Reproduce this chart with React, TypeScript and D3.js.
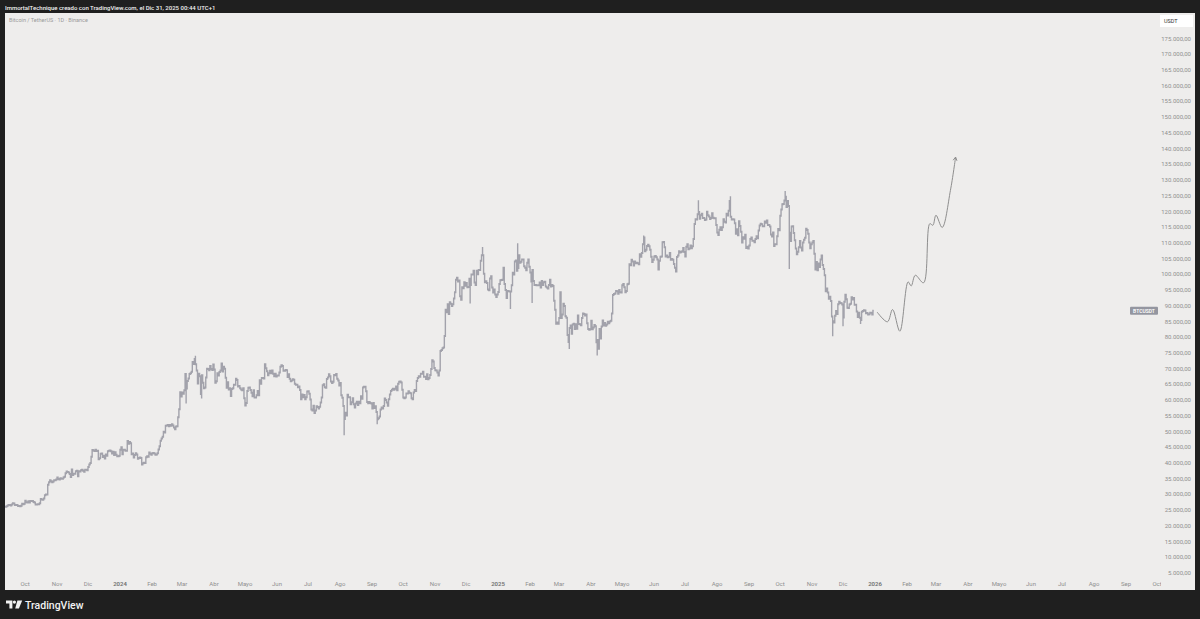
import React, { useEffect, useRef } from "react";
import * as d3 from "d3";

const W = 1200;
const H = 619;

// daily closes (thousand USDT), one array per month
const closesSep23 = [26.1, 26.2, 26.5, 26.6, 26.6, 26.5, 26.8, 27.2, 27.1, 26.6, 26.6, 26.6, 26.3, 26.3, 26.2, 26.4, 27.0, 26.9, 27.0];
const closesOct23 = [28.0, 27.5, 27.4, 27.8, 27.4, 27.9, 27.9, 27.9, 27.6, 27.4, 26.8, 26.8, 26.9, 26.9, 27.2, 28.5, 28.4, 28.3, 28.7, 29.7, 30.0, 30.0, 33.1, 33.9, 34.5, 34.2, 33.9, 34.1, 34.5, 34.5, 34.7];
const closesNov23 = [35.4, 34.9, 34.7, 35.1, 35.0, 35.0, 35.4, 35.6, 36.7, 37.3, 37.1, 37.0, 36.5, 35.5, 37.9, 36.2, 36.6, 36.6, 37.4, 37.5, 35.8, 37.4, 37.3, 37.7, 37.8, 37.5, 37.2, 37.8, 37.8, 37.7];
const closesDec23 = [38.7, 39.5, 40.0, 42.0, 44.1, 44.0, 43.8, 44.2, 43.8, 43.9, 41.2, 41.5, 42.9, 43.0, 41.9, 42.3, 41.4, 42.7, 42.3, 43.7, 43.9, 44.0, 43.7, 43.0, 43.6, 42.5, 43.4, 42.6, 42.1, 42.1, 42.3];
const closesJan24 = [44.2, 45.0, 42.8, 44.2, 44.2, 43.9, 43.9, 47.0, 46.1, 46.7, 46.3, 42.8, 43.0, 41.7, 42.5, 43.1, 42.7, 41.3, 41.6, 41.7, 41.6, 39.5, 39.9, 40.1, 40.0, 41.8, 42.1, 42.0, 43.3, 42.9, 42.6];
const closesFeb24 = [43.1, 43.2, 43.0, 42.6, 42.7, 43.1, 44.3, 45.3, 47.1, 47.8, 48.3, 49.9, 49.7, 51.8, 51.9, 52.1, 51.7, 52.1, 51.8, 52.3, 51.9, 51.3, 50.7, 51.6, 51.7, 54.5, 57.1, 62.5, 61.1];
const closesMar24 = [62.4, 62.0, 63.1, 68.3, 63.7, 66.1, 66.9, 68.3, 68.5, 69.0, 72.1, 71.5, 73.1, 71.4, 69.4, 65.3, 68.4, 67.6, 61.9, 67.9, 65.5, 63.8, 64.0, 67.2, 70.0, 69.9, 69.5, 70.8, 69.9, 69.6, 71.3];
const closesApr24 = [69.7, 65.5, 66.0, 68.5, 67.8, 68.9, 69.4, 71.6, 69.1, 70.6, 70.0, 67.1, 63.9, 65.7, 63.4, 63.8, 61.3, 63.5, 63.8, 64.9, 64.9, 66.8, 66.4, 64.3, 64.5, 63.8, 63.4, 63.1, 63.8, 60.6];
const closesMay24 = [58.3, 59.1, 62.9, 63.9, 64.0, 63.2, 62.3, 61.2, 63.1, 60.8, 60.8, 61.5, 62.9, 61.5, 66.3, 65.2, 67.0, 67.0, 66.9, 71.4, 70.1, 69.2, 67.9, 68.5, 69.3, 68.5, 69.4, 68.4, 67.6, 68.4, 67.5];
const closesJun24 = [67.8, 67.8, 68.8, 70.6, 71.1, 70.8, 69.3, 69.3, 69.6, 69.5, 67.3, 68.2, 66.8, 66.0, 66.2, 66.6, 66.5, 65.2, 64.9, 64.9, 64.1, 64.3, 63.2, 60.3, 61.8, 60.9, 61.6, 60.3, 60.9, 62.7];
const closesJul24 = [62.8, 62.0, 60.2, 57.0, 56.7, 58.2, 55.9, 56.7, 58.0, 57.8, 57.3, 57.9, 59.2, 60.8, 64.7, 65.0, 64.1, 63.9, 66.7, 67.2, 68.2, 67.6, 65.9, 65.4, 65.8, 68.0, 67.9, 68.3, 66.8, 66.2, 64.6];
const closesAug24 = [65.4, 61.5, 60.7, 58.1, 54.0, 56.0, 55.1, 61.7, 60.9, 60.9, 58.7, 59.3, 60.6, 58.7, 57.6, 58.9, 59.5, 58.4, 59.5, 59.0, 61.2, 60.4, 64.0, 64.2, 64.2, 62.8, 59.4, 59.0, 59.4, 59.1, 58.9];
const closesSep24 = [57.3, 59.1, 57.5, 58.0, 56.2, 53.9, 54.2, 54.8, 57.0, 57.6, 57.3, 58.1, 60.5, 60.0, 59.2, 58.2, 60.3, 61.8, 62.9, 63.3, 63.6, 63.3, 63.6, 64.3, 63.1, 65.2, 65.8, 65.9, 65.6, 63.3];
const closesOct24 = [60.8, 60.6, 60.8, 62.1, 62.1, 62.8, 62.3, 62.2, 60.6, 60.3, 62.4, 63.2, 62.9, 66.1, 67.0, 67.6, 67.4, 68.4, 68.4, 69.0, 67.4, 67.4, 66.7, 68.2, 66.6, 67.0, 68.0, 69.9, 72.7, 72.3, 70.2];
const closesNov24 = [69.5, 69.4, 68.8, 67.8, 69.4, 75.6, 75.9, 76.5, 76.7, 80.4, 88.7, 87.9, 90.5, 87.4, 91.1, 90.6, 89.9, 90.5, 92.3, 94.3, 98.3, 98.9, 97.7, 98.0, 93.0, 91.9, 95.9, 95.6, 97.5, 96.4];
const closesDec24 = [97.2, 95.9, 96.0, 98.6, 96.6, 99.9, 99.9, 101.1, 97.4, 96.6, 101.1, 100.0, 101.4, 101.4, 104.3, 106.1, 106.1, 100.2, 97.5, 97.8, 97.2, 95.2, 94.9, 98.7, 99.4, 95.8, 94.2, 95.2, 93.6, 92.8, 93.6];
const closesJan25 = [94.4, 96.9, 98.1, 98.2, 98.3, 102.1, 96.9, 95.0, 92.5, 94.7, 94.6, 94.5, 94.5, 96.5, 100.5, 99.9, 104.1, 104.4, 101.1, 102.0, 106.1, 103.7, 104.0, 104.7, 104.7, 102.6, 102.1, 101.3, 103.7, 104.7, 102.4];
const closesFeb25 = [100.6, 97.7, 101.4, 97.9, 96.6, 96.6, 96.5, 96.5, 96.5, 97.4, 95.8, 97.9, 96.6, 97.5, 97.6, 96.1, 95.8, 95.5, 96.6, 98.3, 96.1, 96.6, 96.3, 91.6, 88.7, 84.3, 84.7, 84.3];
const closesMar25 = [86.1, 94.3, 86.1, 87.2, 90.6, 89.9, 86.7, 86.2, 80.7, 78.5, 82.9, 83.7, 81.1, 84.0, 84.3, 82.6, 84.1, 82.7, 86.9, 84.2, 84.1, 83.8, 86.1, 87.5, 87.4, 86.9, 87.2, 84.4, 82.6, 82.4, 82.5];
const closesApr25 = [85.2, 82.5, 83.1, 83.9, 83.5, 78.4, 79.1, 76.3, 82.6, 79.6, 83.4, 85.3, 83.7, 84.5, 83.6, 84.0, 84.9, 84.4, 85.0, 85.2, 87.5, 93.4, 93.7, 93.9, 94.7, 94.6, 93.8, 95.0, 94.3, 94.2];
const closesMay25 = [96.5, 96.9, 95.9, 94.3, 94.7, 96.8, 97.0, 103.2, 102.9, 104.6, 104.1, 102.8, 104.1, 103.5, 103.7, 103.5, 103.2, 106.4, 105.6, 106.8, 109.6, 111.7, 107.3, 107.8, 109.0, 109.4, 108.9, 107.8, 105.6, 103.9, 104.6];
const closesJun25 = [105.7, 105.8, 105.4, 104.7, 101.5, 104.3, 105.6, 105.7, 110.2, 110.3, 108.6, 105.7, 106.0, 105.4, 105.6, 106.8, 104.6, 104.9, 104.6, 103.3, 102.1, 100.9, 105.5, 106.0, 107.3, 106.9, 107.1, 107.3, 108.4, 107.1];
const closesJul25 = [105.7, 108.8, 109.6, 108.0, 108.2, 109.2, 108.3, 108.9, 111.2, 116.0, 117.5, 117.4, 119.1, 119.8, 117.7, 118.8, 119.3, 117.9, 117.9, 117.3, 117.4, 119.9, 118.8, 118.4, 117.6, 117.9, 119.4, 118.0, 117.8, 117.8, 115.7];
const closesAug25 = [113.3, 112.5, 114.2, 115.0, 114.1, 115.0, 117.5, 116.7, 116.5, 119.3, 118.7, 120.2, 123.3, 118.3, 117.4, 117.5, 117.4, 116.2, 112.9, 114.3, 112.4, 116.9, 115.4, 113.5, 110.1, 111.8, 111.3, 112.6, 108.4, 108.8, 108.2];
const closesSep25 = [109.2, 111.2, 111.7, 110.7, 110.7, 110.2, 111.2, 112.1, 111.5, 113.9, 115.5, 116.1, 115.9, 115.3, 115.3, 116.8, 116.4, 117.1, 115.7, 115.7, 115.2, 112.7, 112.0, 113.3, 109.0, 109.6, 109.6, 112.1, 114.4, 114.0];
const closesOct25 = [118.6, 120.6, 122.3, 122.4, 123.5, 124.7, 121.4, 123.3, 121.7, 113.2, 110.6, 115.2, 115.3, 113.1, 110.8, 108.2, 106.4, 107.2, 108.6, 110.6, 108.5, 107.6, 110.1, 111.0, 111.6, 114.5, 114.1, 112.9, 110.1, 108.3, 109.6];
const closesNov25 = [110.1, 110.6, 106.5, 101.5, 103.9, 101.3, 103.4, 102.3, 104.7, 106.0, 103.0, 101.7, 99.7, 94.6, 95.5, 94.2, 92.2, 92.9, 91.5, 86.6, 85.1, 84.7, 86.8, 88.3, 87.4, 90.5, 91.3, 90.9, 90.8, 90.4];
const closesDec25 = [86.3, 91.3, 93.5, 92.1, 89.4, 89.3, 90.4, 90.6, 92.7, 92.0, 92.5, 90.3, 90.3, 88.2, 86.4, 87.8, 86.2, 85.5, 88.1, 88.3, 88.6, 88.5, 87.6, 87.7, 87.2, 87.3, 87.8, 87.8, 87.2, 88.4];

const monthStarts = ["2023-09-12", "2023-10-01", "2023-11-01", "2023-12-01", "2024-01-01", "2024-02-01", "2024-03-01", "2024-04-01", "2024-05-01", "2024-06-01", "2024-07-01", "2024-08-01", "2024-09-01", "2024-10-01", "2024-11-01", "2024-12-01", "2025-01-01", "2025-02-01", "2025-03-01", "2025-04-01", "2025-05-01", "2025-06-01", "2025-07-01", "2025-08-01", "2025-09-01", "2025-10-01", "2025-11-01", "2025-12-01"];
const monthCloses = [closesSep23, closesOct23, closesNov23, closesDec23, closesJan24, closesFeb24, closesMar24, closesApr24, closesMay24, closesJun24, closesJul24, closesAug24, closesSep24, closesOct24, closesNov24, closesDec24, closesJan25, closesFeb25, closesMar25, closesApr25, closesMay25, closesJun25, closesJul25, closesAug25, closesSep25, closesOct25, closesNov25, closesDec25];

// intraday extremes that stick out of the bars
const wickDates = ["2024-03-05", "2024-03-14", "2024-03-20", "2024-08-05", "2024-09-06", "2024-12-05", "2024-12-17", "2025-01-13", "2025-01-20", "2025-02-03", "2025-03-11", "2025-04-07", "2025-05-22", "2025-07-14", "2025-08-14", "2025-10-06", "2025-10-10", "2025-11-21", "2025-12-01", "2025-12-18"];
const wickPrices = [59.2, 73.8, 60.8, 49.1, 52.6, 91.0, 108.4, 89.3, 109.6, 91.2, 76.6, 74.5, 112.0, 123.2, 124.5, 126.2, 102.0, 80.6, 83.8, 84.5];

// hand-drawn projection
const projDates = ["2026-01-03", "2026-01-13", "2026-01-18", "2026-01-25", "2026-02-02", "2026-02-05", "2026-02-09", "2026-02-17", "2026-02-23", "2026-02-26", "2026-03-01", "2026-03-07", "2026-03-15", "2026-03-20"];
const projPrices = [88.0, 84.9, 88.8, 81.9, 97.6, 96.3, 99.7, 97.3, 116.1, 115.6, 118.8, 114.9, 126.7, 137.3];

const monthNames = ["Ene", "Feb", "Mar", "Abr", "Mayo", "Jun", "Jul", "Ago", "Sep", "Oct", "Nov", "Dic"];
const priceTicks = d3.range(5, 176, 5);

const FONT = "Roboto, 'Noto Sans', sans-serif";

const App = () => {
  const ref = useRef<SVGSVGElement>(null);

  useEffect(() => {
    const svg = d3.select(ref.current);
    svg.selectAll("*").remove();

    const parse = d3.utcParse("%Y-%m-%d");
    const x = d3
      .scaleUtc()
      .domain([parse("2023-10-01")!, parse("2026-10-01")!])
      .range([25, 1157]);
    const y = d3.scaleLinear().domain([5, 175]).range([573, 38.5]);

    const fmt = d3
      .formatLocale({ decimal: ",", thousands: ".", grouping: [3], currency: ["", ""] })
      .format(",.2f");

    // background + panel
    svg.append("rect").attr("width", W).attr("height", H).attr("fill", "#1f1f1f");
    svg.append("rect").attr("x", 5).attr("y", 13).attr("width", 1190).attr("height", 577).attr("fill", "#eeedec");

    const defs = svg.append("defs");
    defs.append("clipPath").attr("id", "plot").append("rect").attr("x", 5).attr("y", 13).attr("width", 1155).attr("height", 565);
    defs.append("clipPath").attr("id", "timeaxis").append("rect").attr("x", 5).attr("y", 575).attr("width", 1156).attr("height", 15);

    svg
      .append("text")
      .attr("x", 5)
      .attr("y", 9.5)
      .attr("fill", "#f2f2f2")
      .attr("font-family", FONT)
      .attr("font-size", 6)
      .attr("font-weight", 500)
      .text("ImmortalTechnique creado con TradingView.com, el Dic 31, 2025 00:44 UTC+1");

    svg
      .append("text")
      .attr("x", 9)
      .attr("y", 22)
      .attr("fill", "#9a9a9a")
      .attr("font-family", FONT)
      .attr("font-size", 5.5)
      .text("Bitcoin / TetherUS · 1D · Binance");

    // daily bars
    const wickMap = new Map(wickDates.map((d, i) => [d, wickPrices[i]]));
    const fmtDay = d3.utcFormat("%Y-%m-%d");
    let path = "";
    let prev: number | null = null;
    let lastClose = 0;
    monthStarts.forEach((start, m) => {
      const d0 = parse(start)!;
      monthCloses[m].forEach((c, i) => {
        const day = d3.utcDay.offset(d0, i);
        const open = prev ?? c;
        const w = wickMap.get(fmtDay(day));
        let hi = Math.max(open, c);
        let lo = Math.min(open, c);
        if (w !== undefined) {
          hi = Math.max(hi, w);
          lo = Math.min(lo, w);
        }
        const px = x(day);
        const yh = y(hi) - 1;
        const yl = Math.max(y(lo) + 1, yh + 2);
        path += `M${px},${yh}V${yl}M${px - 0.8},${y(open)}H${px}M${px},${y(c)}H${px + 0.8}`;
        prev = c;
        lastClose = c;
      });
    });

    const plot = svg.append("g").attr("clip-path", "url(#plot)");
    plot
      .append("path")
      .attr("d", path)
      .attr("fill", "none")
      .attr("stroke", "#a2a2ab")
      .attr("stroke-width", 1.4);

    // projection curve with arrow
    const pts: [number, number][] = projDates.map((d, i) => [x(parse(d)!), y(projPrices[i])]);
    const line = d3.line().curve(d3.curveCatmullRom.alpha(0.5));
    plot
      .append("path")
      .attr("d", line(pts))
      .attr("fill", "none")
      .attr("stroke", "#8e8e8e")
      .attr("stroke-width", 1);
    const [ax, ay] = pts[pts.length - 1];
    const [bx, by] = pts[pts.length - 2];
    const ang = Math.atan2(ay - by, ax - bx);
    const L = 4;
    const arrow = [ang + Math.PI - 0.5, ang + Math.PI + 0.5]
      .map((a) => `M${ax},${ay}L${ax + L * Math.cos(a)},${ay + L * Math.sin(a)}`)
      .join("");
    plot.append("path").attr("d", arrow).attr("fill", "none").attr("stroke", "#8e8e8e").attr("stroke-width", 1);

    // price axis
    const ya = svg.append("g");
    ya.selectAll("text")
      .data(priceTicks)
      .enter()
      .append("text")
      .attr("x", 1191)
      .attr("y", (d) => y(d))
      .attr("dy", "0.35em")
      .attr("text-anchor", "end")
      .attr("fill", "#8f8f8f")
      .attr("font-family", FONT)
      .attr("font-size", 6)
      .text((d) => fmt(d * 1000));

    svg.append("rect").attr("x", 1160).attr("y", 15).attr("width", 33).attr("height", 12).attr("fill", "#ffffff");
    svg
      .append("text")
      .attr("x", 1164)
      .attr("y", 21)
      .attr("dy", "0.35em")
      .attr("fill", "#333")
      .attr("font-family", FONT)
      .attr("font-size", 5.5)
      .text("USDT");

    const ly = y(lastClose);
    svg.append("rect").attr("x", 1130).attr("y", ly - 4).attr("width", 28).attr("height", 8).attr("rx", 1).attr("fill", "#9496a0");
    svg
      .append("text")
      .attr("x", 1144)
      .attr("y", ly)
      .attr("dy", "0.35em")
      .attr("text-anchor", "middle")
      .attr("fill", "#ffffff")
      .attr("font-family", FONT)
      .attr("font-size", 5)
      .attr("font-weight", 600)
      .text("BTCUSDT");

    // time axis
    const months = d3.utcMonth.range(parse("2023-10-01")!, parse("2026-11-01")!);
    svg
      .append("g")
      .attr("clip-path", "url(#timeaxis)")
      .selectAll("text")
      .data(months)
      .enter()
      .append("text")
      .attr("x", (d) => x(d))
      .attr("y", 583.5)
      .attr("dy", "0.35em")
      .attr("text-anchor", "middle")
      .attr("fill", (d) => (d.getUTCMonth() === 0 ? "#6f6f6f" : "#8f8f8f"))
      .attr("font-weight", (d) => (d.getUTCMonth() === 0 ? 600 : 400))
      .attr("font-family", FONT)
      .attr("font-size", 6)
      .text((d) => (d.getUTCMonth() === 0 ? String(d.getUTCFullYear()) : monthNames[d.getUTCMonth()]));

    // TradingView mark
    const logo = svg.append("g").attr("fill", "#f2f2f2");
    logo.append("path").attr("d", "M6,600.5H12.4V608.5H9.4V603.4H6Z");
    logo.append("circle").attr("cx", 14.4).attr("cy", 602.1).attr("r", 1.6);
    logo.append("path").attr("d", "M17.4,600.5H22.2L18.9,608.5H15.2Z");
    svg
      .append("text")
      .attr("x", 25)
      .attr("y", 608.5)
      .attr("fill", "#f2f2f2")
      .attr("font-family", FONT)
      .attr("font-size", 10.5)
      .attr("font-weight", 500)
      .text("TradingView");
  }, []);

  return (
    <svg
      ref={ref}
      width={W}
      height={H}
      style={{ position: "absolute", left: 0, top: 0, display: "block" }}
    ></svg>
  );
};

export default App;
